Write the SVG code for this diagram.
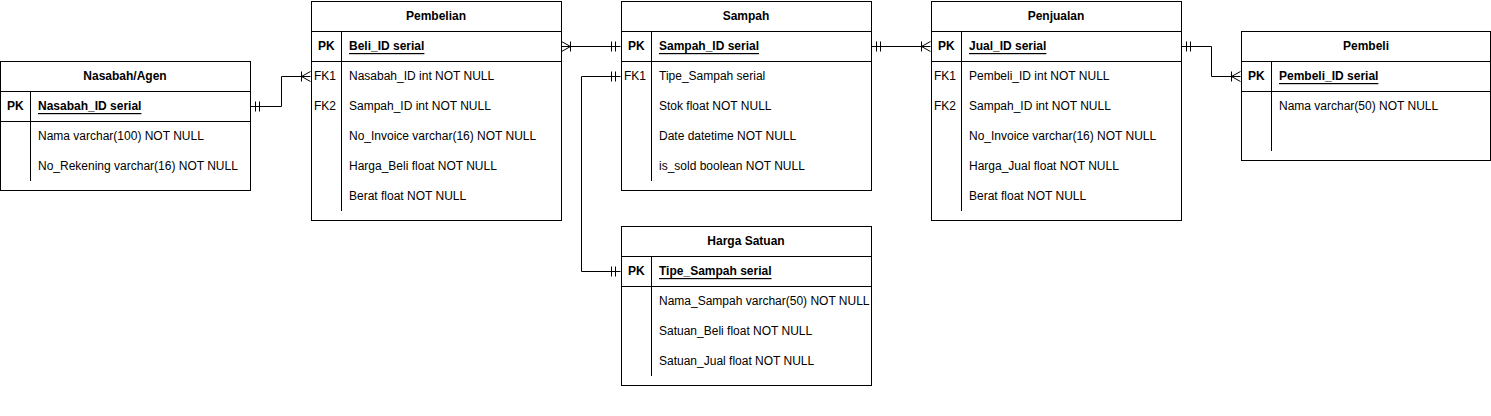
<svg xmlns="http://www.w3.org/2000/svg" width="1491" height="416" viewBox="0 0 1491 416">
<style>
rect{fill:#fff;stroke:#000;stroke-width:1}
line.d{stroke:#000;stroke-width:1}
text{font-family:"Liberation Sans",Arial,sans-serif;font-size:12px;fill:#000;dominant-baseline:central}
.h{font-weight:bold;text-anchor:middle}
.b{font-weight:bold}
.u{font-weight:bold;text-decoration:underline}
.c{fill:none;stroke:#000;stroke-width:1}
</style>
<defs>
<marker id="one" viewBox="-12 -6 13 12" refX="0" refY="0" markerWidth="13" markerHeight="12" markerUnits="userSpaceOnUse" orient="auto-start-reverse">
<path d="M-5,-5V5M-9,-5V5" fill="none" stroke="#000"/>
</marker>
<marker id="many" viewBox="-12 -6 13 12" refX="0" refY="0" markerWidth="13" markerHeight="12" markerUnits="userSpaceOnUse" orient="auto-start-reverse">
<path d="M0,-5L-9,0L0,5M-9,-5V5" fill="none" stroke="#000"/>
</marker>
</defs>
<g id="connectors">
<path class="c" d="M250.5,106.5H281.5V76.5H310.5" marker-start="url(#one)" marker-end="url(#many)"/>
<path class="c" d="M561.5,46.5H620.5" marker-start="url(#many)" marker-end="url(#one)"/>
<path class="c" d="M620.5,76.5H581.5V271.5H620.5" marker-start="url(#one)" marker-end="url(#one)"/>
<path class="c" d="M871.5,46.5H930.5" marker-start="url(#one)" marker-end="url(#many)"/>
<path class="c" d="M1181.5,46.5H1211.5V76.5H1240.5" marker-start="url(#one)" marker-end="url(#many)"/>
</g>
<g id="nasabah">
<rect x="0.5" y="61.5" width="250" height="129"/>
<line class="d" x1="0.5" y1="91.5" x2="250.5" y2="91.5"/>
<line class="d" x1="0.5" y1="121.5" x2="250.5" y2="121.5"/>
<line class="d" x1="30.5" y1="91.5" x2="30.5" y2="181"/>
<text class="h" x="125" y="76">Nasabah/Agen</text>
<text class="b" x="7" y="106">PK</text>
<text class="u" x="38" y="106">Nasabah_ID serial</text>
<text x="38" y="136">Nama varchar(100) NOT NULL</text>
<text x="38" y="166">No_Rekening varchar(16) NOT NULL</text>
</g>
<g id="pembelian">
<rect x="311.5" y="1.5" width="250" height="219"/>
<line class="d" x1="311.5" y1="31.5" x2="561.5" y2="31.5"/>
<line class="d" x1="311.5" y1="61.5" x2="561.5" y2="61.5"/>
<line class="d" x1="341.5" y1="31.5" x2="341.5" y2="211"/>
<text class="h" x="436" y="16">Pembelian</text>
<text class="b" x="318" y="46">PK</text>
<text class="u" x="349" y="46">Beli_ID serial</text>
<text x="314" y="76">FK1</text>
<text x="349" y="76">Nasabah_ID int NOT NULL</text>
<text x="314" y="106">FK2</text>
<text x="349" y="106">Sampah_ID int NOT NULL</text>
<text x="349" y="136">No_Invoice varchar(16) NOT NULL</text>
<text x="349" y="166">Harga_Beli float NOT NULL</text>
<text x="349" y="196">Berat float NOT NULL</text>
</g>
<g id="sampah">
<rect x="621.5" y="1.5" width="250" height="189"/>
<line class="d" x1="621.5" y1="31.5" x2="871.5" y2="31.5"/>
<line class="d" x1="621.5" y1="61.5" x2="871.5" y2="61.5"/>
<line class="d" x1="651.5" y1="31.5" x2="651.5" y2="181"/>
<text class="h" x="746" y="16">Sampah</text>
<text class="b" x="628" y="46">PK</text>
<text class="u" x="659" y="46">Sampah_ID serial</text>
<text x="624" y="76">FK1</text>
<text x="659" y="76">Tipe_Sampah serial</text>
<text x="659" y="106">Stok float NOT NULL</text>
<text x="659" y="136">Date datetime NOT NULL</text>
<text x="659" y="166">is_sold boolean NOT NULL</text>
</g>
<g id="penjualan">
<rect x="931.5" y="1.5" width="250" height="219"/>
<line class="d" x1="931.5" y1="31.5" x2="1181.5" y2="31.5"/>
<line class="d" x1="931.5" y1="61.5" x2="1181.5" y2="61.5"/>
<line class="d" x1="961.5" y1="31.5" x2="961.5" y2="211"/>
<text class="h" x="1056" y="16">Penjualan</text>
<text class="b" x="938" y="46">PK</text>
<text class="u" x="969" y="46">Jual_ID serial</text>
<text x="934" y="76">FK1</text>
<text x="969" y="76">Pembeli_ID int NOT NULL</text>
<text x="934" y="106">FK2</text>
<text x="969" y="106">Sampah_ID int NOT NULL</text>
<text x="969" y="136">No_Invoice varchar(16) NOT NULL</text>
<text x="969" y="166">Harga_Jual float NOT NULL</text>
<text x="969" y="196">Berat float NOT NULL</text>
</g>
<g id="pembeli">
<rect x="1241.5" y="31.5" width="249" height="129"/>
<line class="d" x1="1241.5" y1="61.5" x2="1490.5" y2="61.5"/>
<line class="d" x1="1241.5" y1="91.5" x2="1490.5" y2="91.5"/>
<line class="d" x1="1271.5" y1="61.5" x2="1271.5" y2="151"/>
<text class="h" x="1366" y="46">Pembeli</text>
<text class="b" x="1248" y="76">PK</text>
<text class="u" x="1279" y="76">Pembeli_ID serial</text>
<text x="1279" y="106">Nama varchar(50) NOT NULL</text>
</g>
<g id="harga-satuan">
<rect x="621.5" y="226.5" width="250" height="159"/>
<line class="d" x1="621.5" y1="256.5" x2="871.5" y2="256.5"/>
<line class="d" x1="621.5" y1="286.5" x2="871.5" y2="286.5"/>
<line class="d" x1="651.5" y1="256.5" x2="651.5" y2="376"/>
<text class="h" x="746" y="241">Harga Satuan</text>
<text class="b" x="628" y="271">PK</text>
<text class="u" x="659" y="271">Tipe_Sampah serial</text>
<text x="659" y="301">Nama_Sampah varchar(50) NOT NULL</text>
<text x="659" y="331">Satuan_Beli float NOT NULL</text>
<text x="659" y="361">Satuan_Jual float NOT NULL</text>
</g>
</svg>
